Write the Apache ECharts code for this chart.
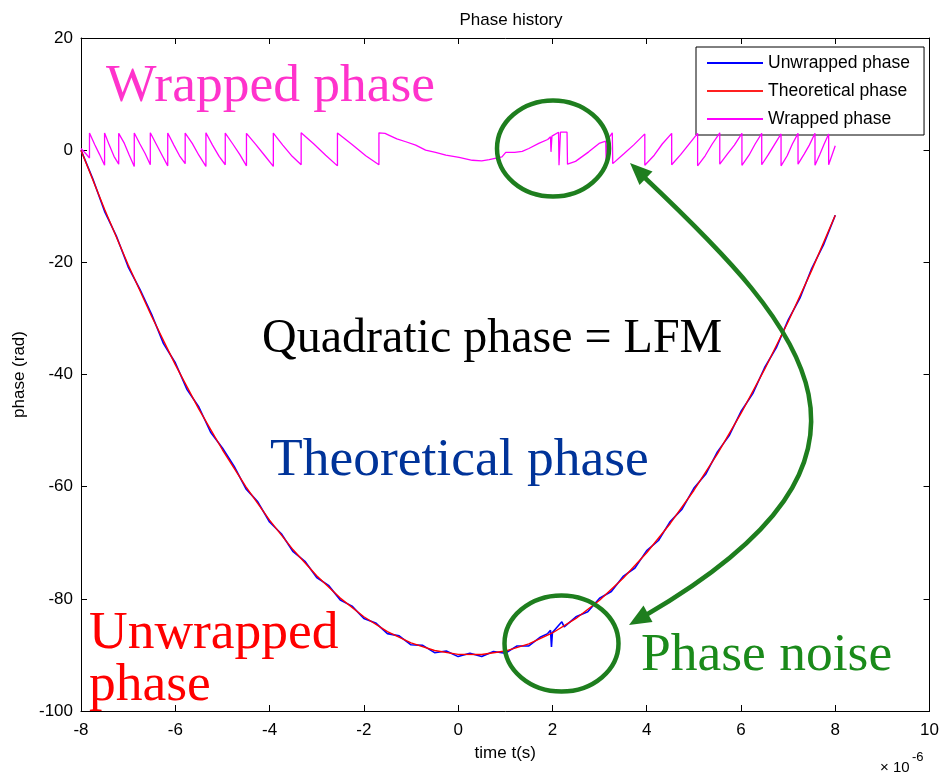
<!DOCTYPE html>
<html>
<head>
<meta charset="utf-8">
<title>Phase history</title>
<script src="https://cdn.jsdelivr.net/npm/echarts@6/dist/echarts.min.js"></script>
<style>
  html, body { margin: 0; padding: 0; background: #ffffff; }
  #chart { width: 942px; height: 777px; }
</style>
</head>
<body>
<div id="chart"></div>
<script>
// Time samples are in microseconds (axis multiplier ×10^-6), phase in radians.

// Theoretical (quadratic / LFM) phase
const theoryTime = [-8, -7.5, -7, -6.5, -6, -5.5, -5, -4.5, -4, -3.5, -3, -2.5, -2, -1.5, -1, -0.5,
  0, 0.5, 1, 1.5, 2, 2.5, 3, 3.5, 4, 4.5, 5, 5.5, 6, 6.5, 7, 7.5, 8];
const theoryPhase = [0.0, -10.55, -20.44, -29.67, -38.24, -46.16, -53.42, -60.03, -65.97, -71.26,
  -75.90, -79.87, -83.19, -85.86, -87.86, -89.21, -89.90, -89.93, -89.31, -88.03, -86.09, -83.50,
  -80.25, -76.34, -71.78, -66.56, -60.68, -54.14, -46.95, -39.10, -30.59, -21.43, -11.61];

// Unwrapped phase measured from the noisy signal
const unwrapTime = [-8, -7.75, -7.5, -7.25, -7, -6.75, -6.5, -6.25, -6, -5.75, -5.5, -5.25, -5, -4.75,
  -4.5, -4.25, -4, -3.75, -3.5, -3.25, -3, -2.75, -2.5, -2.25, -2, -1.75, -1.5, -1.25, -1, -0.75,
  -0.5, -0.25, 0, 0.25, 0.5, 0.75, 1, 1.25, 1.5, 1.75, 1.9, 1.96, 1.98, 2.0, 2.2, 2.25, 2.5, 2.75,
  3, 3.25, 3.5, 3.75, 4, 4.25, 4.5, 4.75, 5, 5.25, 5.5, 5.75, 6, 6.25, 6.5, 6.75, 7, 7.25, 7.5, 7.75, 8];
const unwrapPhase = [0.0, -5.1, -10.9, -15.3, -20.8, -24.8, -29.3, -34.5, -37.9, -42.7, -45.8, -50.3,
  -53.1, -56.4, -60.4, -62.7, -66.3, -68.4, -71.6, -73.3, -76.2, -77.6, -80.2, -81.3, -83.5, -84.3,
  -86.2, -86.6, -88.2, -88.3, -89.6, -89.3, -90.3, -89.7, -90.3, -89.4, -89.7, -88.4, -88.4, -86.8,
  -86.2, -85.6, -88.6, -86.0, -84.1, -85.0, -83.2, -82.3, -79.9, -78.7, -76.0, -74.5, -71.4, -69.6,
  -66.2, -64.0, -60.3, -57.8, -53.8, -50.9, -46.6, -43.4, -38.8, -35.2, -30.3, -26.4, -21.1, -16.9, -11.6];

// Wrapped phase (principal value, -pi..pi)
const wrapTime = [-8.00, -7.90, -7.82, -7.82, -7.71, -7.61, -7.50, -7.50, -7.40, -7.30, -7.20, -7.20,
  -7.08, -6.98, -6.87, -6.87, -6.75, -6.64, -6.53, -6.53, -6.40, -6.28, -6.16, -6.16, -6.03, -5.91,
  -5.79, -5.79, -5.64, -5.50, -5.35, -5.35, -5.21, -5.07, -4.94, -4.94, -4.78, -4.63, -4.49, -4.49,
  -4.29, -4.10, -3.92, -3.92, -3.72, -3.52, -3.33, -3.33, -3.06, -2.81, -2.56, -2.56, -2.25, -1.96,
  -1.68, -1.68, -1.55, -1.45, -1.30, -1.11, -0.90, -0.69, -0.48, -0.26, 0.02, 0.30, 0.50, 0.66, 0.93,
  1.01, 1.20, 1.36, 1.50, 1.71, 1.90, 1.96, 1.97, 1.99, 2.03, 2.13, 2.14, 2.17, 2.31, 2.32, 2.49, 2.77,
  2.99, 3.13, 3.14, 3.17, 3.27, 3.28, 3.51, 3.72, 3.96, 3.96, 4.16, 4.33, 4.53, 4.53, 4.72, 4.89, 5.08,
  5.08, 5.24, 5.39, 5.55, 5.55, 5.71, 5.86, 6.02, 6.02, 6.17, 6.30, 6.44, 6.44, 6.58, 6.71, 6.85, 6.85,
  6.98, 7.09, 7.21, 7.21, 7.34, 7.45, 7.57, 7.57, 7.67, 7.76, 7.86, 7.86, 7.93, 8.00];
const wrapPhase = [0.3, -0.6, -1.4, 3.05, 1.0, -0.7, -2.7, 3.05, 0.9, -1.1, -2.5, 3.0,
  1.2, -0.8, -2.9, 3.05, 1.1, -0.6, -2.6, 3.1, 1.0, -0.9, -2.8, 3.05, 0.9, -1.0,
  -2.4, 3.05, 1.2, -0.9, -2.9, 3.1, 0.9, -1.1, -2.6, 3.05, 1.1, -0.8, -2.8, 3.0,
  1.0, -1.0, -2.9, 3.05, 0.9, -1.1, -2.6, 3.1, 1.1, -0.9, -2.8, 3.05, 1.0, -1.0,
  -2.6, 3.1, 3.0, 2.6, 2.0, 1.5, 0.9, 0.0, -0.4, -0.9, -1.3, -1.8, -1.9, -1.7, -1.2,
  -0.4, -0.4, -0.2, 0.3, 1.2, 1.9, 2.4, -0.3, 2.5, 2.7, 3.2, -2.7, 3.2, 3.2, -2.5, -2.0, -0.3,
  1.2, 1.6, -2.0, 1.9, 3.1, -2.4, -0.7, 0.9, 2.9, -2.7, -0.9, 1.1, 3.0, -2.6, -0.8, 1.0, 3.0,
  -2.8, -1.0, 1.1, 3.1, -2.5, -0.7, 0.9, 3.0, -2.7, -0.9, 1.1, 3.0, -2.6, -0.8, 1.0, 2.9, -2.8,
  -1.0, 1.1, 3.0, -2.5, -0.7, 0.9, 3.0, -2.7, -0.8, 1.0, 2.9, -2.6, -0.9, 0.8];

// Axis ticks
const xTicks = { min: -8, max: 10, step: 2 };
const yTicks = { min: -100, max: 20, step: 20 };

const seriesNames = ['Unwrapped phase', 'Theoretical phase', 'Wrapped phase'];

function pairs(xs, ys) { return xs.map((x, i) => [x, ys[i]]); }

const sansFont = '"Liberation Sans", Arial, sans-serif';
const serifFont = '"Liberation Serif", "Times New Roman", serif';
const axisText = { color: '#000', fontSize: 17, fontFamily: sansFont };

function boxAxis(position, ticks, withLabels) {
  return {
    type: 'value', position: position,
    min: ticks.min, max: ticks.max, interval: ticks.step,
    axisLine: { show: true, onZero: false, lineStyle: { color: '#000', width: 1 } },
    axisTick: { show: true, inside: true, length: 6, lineStyle: { color: '#000', width: 1 } },
    axisLabel: Object.assign({ show: withLabels, margin: position === 'bottom' ? 11 : 8 }, axisText),
    splitLine: { show: false }
  };
}

const chart = echarts.init(document.getElementById('chart'), null, { renderer: 'canvas' });

const xMain = boxAxis('bottom', xTicks, true);
Object.assign(xMain, { name: 'time t(s)', nameLocation: 'middle', nameGap: 34, nameTextStyle: axisText });
const yMain = boxAxis('left', yTicks, true);
Object.assign(yMain, { name: 'phase (rad)', nameLocation: 'middle', nameGap: 50, nameRotate: 90, nameTextStyle: axisText });

const green = '#1e7e1e';
const bigSerif = '53.5px ' + serifFont;

const option = {
  animation: false,
  backgroundColor: '#ffffff',
  title: {
    text: 'Phase history', left: 506, top: 7, textAlign: 'center',
    textStyle: { color: '#000', fontSize: 17, fontWeight: 'normal', fontFamily: sansFont }
  },
  grid: { left: 81, right: 11, top: 38, bottom: 66, containLabel: false },
  xAxis: [xMain, boxAxis('top', xTicks, false)],
  yAxis: [yMain, boxAxis('right', yTicks, false)],
  legend: {
    data: seriesNames, orient: 'vertical', left: 696, top: 47,
    icon: 'rect', padding: [7, 14, 7, 11], itemGap: 10, itemWidth: 56, itemHeight: 2,
    borderColor: '#000', borderWidth: 1, backgroundColor: '#fff', borderRadius: 0,
    textStyle: { color: '#000', fontSize: 17.5, fontFamily: sansFont, lineHeight: 18 }
  },
  series: [
    { name: seriesNames[0], type: 'line', data: pairs(unwrapTime, unwrapPhase), symbol: 'none',
      lineStyle: { color: '#0000ff', width: 1.6 }, itemStyle: { color: '#0000ff' }, z: 2 },
    { name: seriesNames[1], type: 'line', data: pairs(theoryTime, theoryPhase), symbol: 'none',
      lineStyle: { color: '#ff0000', width: 1.4 }, itemStyle: { color: '#ff2020' }, z: 3 },
    { name: seriesNames[2], type: 'line', data: pairs(wrapTime, wrapPhase), symbol: 'none',
      lineStyle: { color: '#ff00ff', width: 1.3 }, itemStyle: { color: '#ff00ff' }, z: 4 }
  ],
  graphic: [
    // Slide-style annotations
    { type: 'text', z: 100, style: { text: 'Wrapped phase', x: 106, y: 87, fill: '#ff33cc',
      font: bigSerif, verticalAlign: 'middle' } },
    { type: 'text', z: 100, style: { text: 'Quadratic phase = LFM', x: 262, y: 339, fill: '#000000',
      font: '48px ' + serifFont, verticalAlign: 'middle' } },
    { type: 'text', z: 100, style: { text: 'Theoretical phase', x: 270, y: 461, fill: '#003399',
      font: bigSerif, verticalAlign: 'middle' } },
    { type: 'text', z: 100, style: { text: 'Unwrapped', x: 89, y: 634, fill: '#ff0000',
      font: bigSerif, verticalAlign: 'middle' } },
    { type: 'text', z: 100, style: { text: 'phase', x: 89, y: 686, fill: '#ff0000',
      font: bigSerif, verticalAlign: 'middle' } },
    { type: 'text', z: 100, style: { text: 'Phase noise', x: 641, y: 656, fill: '#1a8a1a',
      font: bigSerif, verticalAlign: 'middle' } },
    // Noise highlights
    { type: 'ellipse', z: 101, shape: { cx: 553, cy: 148.5, rx: 56, ry: 48 },
      style: { fill: 'none', stroke: green, lineWidth: 4.5 } },
    { type: 'ellipse', z: 101, shape: { cx: 561.5, cy: 643.5, rx: 57, ry: 48 },
      style: { fill: 'none', stroke: green, lineWidth: 4.5 } },
    // Double-headed curved arrow linking the two noisy regions
    { type: 'bezierCurve', z: 101,
      shape: { x1: 644, y1: 177, cpx1: 807, cpy1: 331, cpx2: 919, cpy2: 456, x2: 646, y2: 615 },
      style: { fill: 'none', stroke: green, lineWidth: 4.5 } },
    { type: 'polygon', z: 102, shape: { points: [[630, 163], [639.5, 185], [652.5, 171.5]] },
      style: { fill: green } },
    { type: 'polygon', z: 102, shape: { points: [[629, 625], [652.5, 622], [643.5, 605.5]] },
      style: { fill: green } },
    // Axis multiplier
    { type: 'text', z: 100, style: { text: '× 10', x: 880, y: 768, fill: '#000',
      font: '15px ' + sansFont, verticalAlign: 'middle' } },
    { type: 'text', z: 100, style: { text: '-6', x: 912, y: 757, fill: '#000',
      font: '13px ' + sansFont, verticalAlign: 'middle' } }
  ]
};

chart.setOption(option);
</script>
</body>
</html>
